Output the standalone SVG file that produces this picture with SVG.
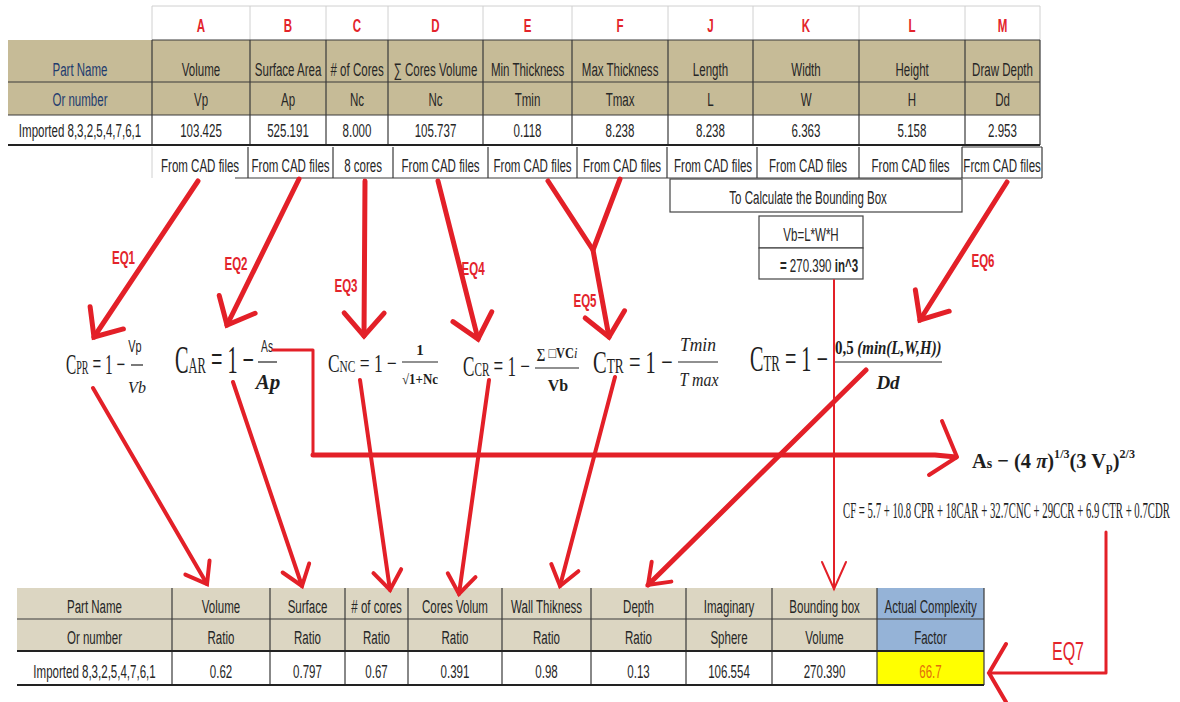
<svg xmlns="http://www.w3.org/2000/svg" width="1180" height="702" viewBox="0 0 1180 702">
<defs>
<style>
.t{font-family:"Liberation Sans",Arial,sans-serif;font-size:18px;text-anchor:middle;fill:#262626;transform-box:fill-box;transform-origin:center;transform:scaleX(.64)}
.pn{fill:#1f3b6e}
.b{font-weight:bold}
.let{fill:#e3242b;font-weight:bold}
.eql{fill:#e3242b;font-weight:bold}
.eq{font-family:"Liberation Serif","Times New Roman",serif;fill:#1e1e1e}
.mid{text-anchor:middle}
.grid{stroke:#d0d0d0;stroke-width:1;fill:none}
.ln{stroke:#3a3a3a;stroke-width:1.2;fill:none}
.thk{stroke:#222;stroke-width:2;fill:none}
.box{stroke:#444;stroke-width:1.2;fill:#fff}
.fl{stroke:#222;stroke-width:1.2}
.red{stroke:#e32028;fill:none;stroke-linecap:round;stroke-linejoin:round}
</style>
<marker id="ah" markerUnits="userSpaceOnUse" orient="auto" markerWidth="70" markerHeight="70" viewBox="-35 -35 70 70" refX="0" refY="0" overflow="visible">
<path d="M-23 -20 L0 0 L-23 20" fill="none" stroke="#e32028" stroke-width="5" stroke-linecap="round"/>
</marker>
<marker id="ahs" markerUnits="userSpaceOnUse" orient="auto" markerWidth="60" markerHeight="60" viewBox="-30 -30 60 60" refX="0" refY="0" overflow="visible">
<path d="M-19 -14 L0 0 L-19 14" fill="none" stroke="#e32028" stroke-width="4" stroke-linecap="round"/>
</marker>
<marker id="aht" markerUnits="userSpaceOnUse" orient="auto" markerWidth="60" markerHeight="60" viewBox="-30 -30 60 60" refX="0" refY="0" overflow="visible">
<path d="M-27 -12 L0 0 L-27 12" fill="none" stroke="#e32028" stroke-width="2" stroke-linecap="round"/>
</marker>
<marker id="ahw" markerUnits="userSpaceOnUse" orient="auto" markerWidth="80" markerHeight="80" viewBox="-40 -40 80 80" refX="0" refY="0" overflow="visible">
<path d="M-17 -29 L0 0 L-17 29" fill="none" stroke="#e32028" stroke-width="4" stroke-linecap="round"/>
</marker>
</defs>
<rect width="1180" height="702" fill="#fff"/>

<g id="top-table">
<rect x="8" y="40" width="1032" height="75" fill="#c6bb97"/>
<path class="grid" d="M152 6H1040 M152 6V40 M250 6V40 M326 6V40 M388 6V40 M483 6V40 M572 6V40 M668 6V40 M753 6V40 M859 6V40 M965 6V40 M1040 6V40"/>
<path class="ln" d="M152 40H1040 M8 82H1040 M8 115H1040 M152 40V145 M250 40V145 M326 40V145 M388 40V145 M483 40V145 M572 40V145 M668 40V145 M753 40V145 M859 40V145 M965 40V145 M1040 40V145"/>
<path class="thk" d="M8 145H1040"/>
<g class="letters">
<text class="t let" x="201" y="32">A</text>
<text class="t let" x="288" y="32">B</text>
<text class="t let" x="357" y="32">C</text>
<text class="t let" x="435.5" y="32">D</text>
<text class="t let" x="527.5" y="32">E</text>
<text class="t let" x="620" y="32">F</text>
<text class="t let" x="710.5" y="32">J</text>
<text class="t let" x="806" y="32">K</text>
<text class="t let" x="912" y="32">L</text>
<text class="t let" x="1002.5" y="32">M</text>
</g>
<text class="t pn" x="80" y="76">Part Name</text>
<text class="t" x="201" y="76">Volume</text>
<text class="t" x="288" y="76">Surface Area</text>
<text class="t" x="357" y="76"># of Cores</text>
<text class="t" x="435.5" y="76">∑ Cores Volume</text>
<text class="t" x="527.5" y="76">Min Thickness</text>
<text class="t" x="620" y="76">Max Thickness</text>
<text class="t" x="710.5" y="76">Length</text>
<text class="t" x="806" y="76">Width</text>
<text class="t" x="912" y="76">Height</text>
<text class="t" x="1002.5" y="76">Draw Depth</text>
<text class="t pn" x="80" y="106">Or number</text>
<text class="t" x="201" y="106">Vp</text>
<text class="t" x="288" y="106">Ap</text>
<text class="t" x="357" y="106">Nc</text>
<text class="t" x="435.5" y="106">Nc</text>
<text class="t" x="527.5" y="106">Tmin</text>
<text class="t" x="620" y="106">Tmax</text>
<text class="t" x="710.5" y="106">L</text>
<text class="t" x="806" y="106">W</text>
<text class="t" x="912" y="106">H</text>
<text class="t" x="1002.5" y="106">Dd</text>
<text class="t" x="80" y="137">Imported 8,3,2,5,4,7,6,1</text>
<text class="t" x="201" y="137">103.425</text>
<text class="t" x="288" y="137">525.191</text>
<text class="t" x="357" y="137">8.000</text>
<text class="t" x="435.5" y="137">105.737</text>
<text class="t" x="527.5" y="137">0.118</text>
<text class="t" x="620" y="137">8.238</text>
<text class="t" x="710.5" y="137">8.238</text>
<text class="t" x="806" y="137">6.363</text>
<text class="t" x="912" y="137">5.158</text>
<text class="t" x="1002.5" y="137">2.953</text>
</g>

<g id="source-row">
<path class="grid" d="M152 147V178"/>
<path class="ln" d="M235 178H1042 M962 147H1042 M248 147V178 M333 147V178 M393 147V178 M488 147V178 M577 147V178 M667 147V178 M757 147V178 M859 147V178 M962 147V178 M1042 147V178"/>
<text class="t" x="200" y="172">From CAD files</text>
<text class="t" x="290.5" y="172">From CAD files</text>
<text class="t" x="363" y="172">8 cores</text>
<text class="t" x="440.5" y="172">From CAD files</text>
<text class="t" x="532.5" y="172">From CAD files</text>
<text class="t" x="622" y="172">From CAD files</text>
<text class="t" x="713" y="172">From CAD files</text>
<text class="t" x="808" y="172">From CAD files</text>
<text class="t" x="910.5" y="172">From CAD files</text>
<text class="t" x="1002" y="172">Frcm CAD files</text>
</g>

<g id="bounding-note">
<rect class="box" x="670" y="179" width="292" height="33"/>
<text class="t" x="808" y="204">To Calculate the Bounding Box</text>
</g>

<g id="vb-box">
<rect class="box" x="759" y="216" width="104" height="32"/>
<rect class="box" x="759" y="248" width="104" height="31"/>
<text class="t" x="811" y="241">Vb=L*W*H</text>
<text class="t" x="819" y="272"><tspan class="b">=</tspan> 270.390 <tspan class="b">in^3</tspan></text>
</g>

<g id="eq1">
<text class="eq" transform="translate(66 374) scale(0.53 1)" font-size="29" textLength="111.5" lengthAdjust="spacingAndGlyphs">C<tspan font-size="19">PR</tspan> = 1 −</text>
<text class="t" x="135" y="352" style="font-size:17px">Vp</text>
<line class="fl" x1="131" y1="365" x2="143" y2="365"/>
<text class="eq mid" x="137" y="393" font-size="16" font-style="italic">Vb</text>
</g>

<g id="eq2">
<text class="eq" transform="translate(175 373) scale(0.52 1)" font-size="39" textLength="152" lengthAdjust="spacingAndGlyphs">C<tspan font-size="24">AR</tspan> = 1 −</text>
<text class="t" x="267" y="352" style="font-size:16px">As</text>
<line class="fl" x1="258" y1="362" x2="277" y2="362"/>
<text class="eq mid" x="268" y="389" font-size="21" font-style="italic" font-weight="bold">Ap</text>
</g>

<g id="eq3">
<text class="eq" transform="translate(328 372) scale(0.67 1)" font-size="26" textLength="102.7" lengthAdjust="spacingAndGlyphs">C<tspan font-size="17">NC</tspan> = 1 −</text>
<text class="eq mid" x="420" y="355" font-size="15" font-weight="bold">1</text>
<line class="fl" x1="402" y1="362" x2="438" y2="362"/>
<text class="eq mid" x="420" y="384" font-size="14" font-weight="bold" textLength="36" lengthAdjust="spacingAndGlyphs">√1+Nc</text>
</g>

<g id="eq4">
<text class="eq" transform="translate(463 376) scale(0.59 1)" font-size="29" textLength="113.6" lengthAdjust="spacingAndGlyphs">C<tspan font-size="19">CR</tspan> = 1 −</text>
<text class="eq mid" transform="translate(557 358) scale(0.84 1)" font-size="14" font-weight="bold" textLength="48.6" lengthAdjust="spacingAndGlyphs">∑ □VC<tspan font-style="italic" font-weight="normal">i</tspan></text>
<line class="fl" x1="535" y1="368" x2="579" y2="368"/>
<text class="eq mid" x="558" y="391" font-size="16" font-weight="bold">Vb</text>
</g>

<g id="eq5">
<text class="eq" transform="translate(593 373) scale(0.64 1)" font-size="32" textLength="124.2" lengthAdjust="spacingAndGlyphs">C<tspan font-size="21">TR</tspan> = 1 −</text>
<text class="eq mid" x="698" y="351" font-size="19" font-style="italic" textLength="36" lengthAdjust="spacingAndGlyphs">Tmin</text>
<line class="fl" x1="678" y1="362" x2="718" y2="362"/>
<text class="eq mid" x="699" y="386" font-size="19" font-style="italic" textLength="39" lengthAdjust="spacingAndGlyphs">T max</text>
</g>

<g id="eq6">
<text class="eq" transform="translate(750 371) scale(0.56 1)" font-size="36" textLength="139" lengthAdjust="spacingAndGlyphs">C<tspan font-size="23">TR</tspan> = 1 −</text>
<text class="eq" transform="translate(835 354) scale(0.82 1)" font-size="18" font-weight="bold" textLength="130" lengthAdjust="spacingAndGlyphs">0,5 <tspan font-style="italic">(min(L,W,H))</tspan></text>
<line class="fl" x1="835" y1="362" x2="942" y2="362"/>
<text class="eq mid" x="888" y="389" font-size="19" font-style="italic" font-weight="bold">Dd</text>
</g>

<g id="eq-as">
<text class="eq" transform="translate(972 468) scale(0.926 1)" font-size="22" font-weight="bold" textLength="176" lengthAdjust="spacingAndGlyphs">A<tspan font-size="15">s</tspan> − (4 <tspan font-style="italic">π</tspan>)<tspan font-size="13" dy="-10">1/3</tspan><tspan dy="10">(3 V</tspan><tspan font-size="13" dy="3">p</tspan><tspan dy="-3">)</tspan><tspan font-size="13" dy="-10">2/3</tspan></text>
</g>

<g id="eq-cf">
<text class="eq" transform="translate(843 518) scale(0.467 1)" font-size="23" textLength="700" lengthAdjust="spacingAndGlyphs">CF = 5.7 + 10.8 CPR + 18CAR + 32.7CNC + 29CCR + 6.9 CTR + 0.7CDR</text>
</g>

<g id="eq-labels">
<text class="t eql" x="123.5" y="264">EQ1</text>
<text class="t eql" x="236" y="270">EQ2</text>
<text class="t eql" x="346" y="292">EQ3</text>
<text class="t eql" x="473" y="275">EQ4</text>
<text class="t eql" x="585" y="307">EQ5</text>
<text class="t eql" x="983" y="267">EQ6</text>
<text class="t" x="1068" y="660" style="font-size:25px;fill:#e3242b">EQ7</text>
</g>

<g id="bottom-table">
<rect x="17" y="588" width="860" height="63" fill="#dcd6c2"/>
<rect x="877" y="588" width="107" height="63" fill="#95b3d7"/>
<rect x="877" y="651" width="107" height="34" fill="#ffff00"/>
<path class="ln" d="M17 619H984 M172 588V685 M270 588V685 M345 588V685 M408 588V685 M502 588V685 M591 588V685 M686 588V685 M772 588V685 M877 588V685 M984 588V685"/>
<path class="thk" d="M17 651H984 M17 685H984"/>
<text class="t" x="94.5" y="613">Part Name</text>
<text class="t" x="221" y="613">Volume</text>
<text class="t" x="307.5" y="613">Surface</text>
<text class="t" x="376.5" y="613"># of cores</text>
<text class="t" x="455" y="613">Cores Volum</text>
<text class="t" x="546.5" y="613">Wall Thikness</text>
<text class="t" x="638.5" y="613">Depth</text>
<text class="t" x="729" y="613">Imaginary</text>
<text class="t" x="824.5" y="613">Bounding  box</text>
<text class="t" x="930.5" y="613">Actual Complexity</text>
<text class="t" x="94.5" y="644">Or number</text>
<text class="t" x="221" y="644">Ratio</text>
<text class="t" x="307.5" y="644">Ratio</text>
<text class="t" x="376.5" y="644">Ratio</text>
<text class="t" x="455" y="644">Ratio</text>
<text class="t" x="546.5" y="644">Ratio</text>
<text class="t" x="638.5" y="644">Ratio</text>
<text class="t" x="729" y="644">Sphere</text>
<text class="t" x="824.5" y="644">Volume</text>
<text class="t" x="930.5" y="644">Factor</text>
<text class="t" x="94.5" y="678">Imported 8,3,2,5,4,7,6,1</text>
<text class="t" x="221" y="678">0.62</text>
<text class="t" x="307.5" y="678">0.797</text>
<text class="t" x="376.5" y="678">0.67</text>
<text class="t" x="455" y="678">0.391</text>
<text class="t" x="546.5" y="678">0.98</text>
<text class="t" x="638.5" y="678">0.13</text>
<text class="t" x="729" y="678">106.554</text>
<text class="t" x="824.5" y="678">270.390</text>
<text class="t" x="930.5" y="678" style="fill:#e46c0a">66.7</text>
</g>

<g id="connectors">
<path class="red" stroke-width="5" d="M198 181 L94 337" marker-end="url(#ah)"/>
<path class="red" stroke-width="5" d="M299 179 L227 325" marker-end="url(#ah)"/>
<path class="red" stroke-width="5" d="M365 181 L364 336" marker-end="url(#ah)"/>
<path class="red" stroke-width="5" d="M438 181 L478 339" marker-end="url(#ah)"/>
<path class="red" stroke-width="5" d="M548 181 L593 250"/>
<path class="red" stroke-width="5" d="M620 179 L593 250 L609 337" marker-end="url(#ah)"/>
<path class="red" stroke-width="5" d="M1007 182 L920 320" marker-end="url(#ah)"/>
<path class="red" stroke-width="4" d="M93 388 L207 584" marker-end="url(#ahs)"/>
<path class="red" stroke-width="4" d="M233 382 L302 586" marker-end="url(#ahs)"/>
<path class="red" stroke-width="4" d="M360 380 L390 590" marker-end="url(#ahs)"/>
<path class="red" stroke-width="4" d="M489 380 L459 594" marker-end="url(#ahs)"/>
<path class="red" stroke-width="4" d="M615 377 L560 586" marker-end="url(#ahs)"/>
<path class="red" stroke-width="5" d="M866 370 L648 585" marker-end="url(#ahs)"/>
<path class="red" stroke-width="2" d="M834 280 L834 589" marker-end="url(#aht)"/>
<path class="red" stroke-width="3" d="M273 350 H313 V455"/>
<path class="red" stroke-width="5" d="M313 455 H935 L956 457"/>
<path class="red" stroke-width="4" d="M942 421 L957 457 L929 475"/>
<path class="red" stroke-width="3" d="M1106 532 V673 H989" marker-end="url(#ahw)"/>
</g>
</svg>
